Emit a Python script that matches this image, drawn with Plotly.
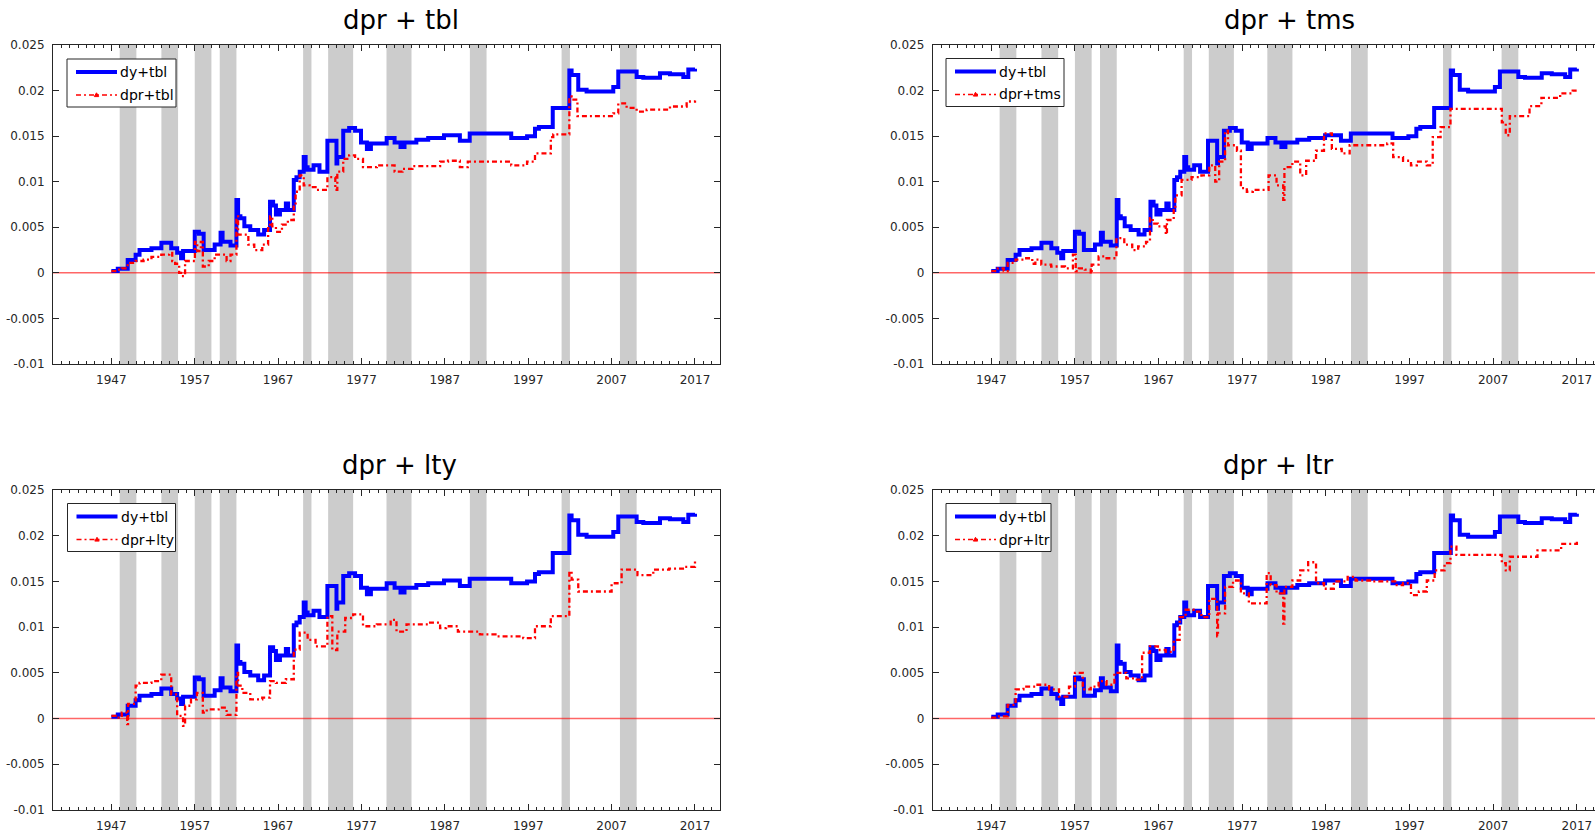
import plotly.graph_objects as go

# ---- recession bands (start, end year) ----
band_start = [1948, 1953, 1957, 1960, 1970, 1973, 1980, 1990, 2001, 2008]
band_end = [1950, 1955, 1959, 1962, 1971, 1976, 1983, 1992, 2002, 2010]

# ---- benchmark: dy+tbl (same in every panel) ----
dy_tbl_years = [1947.0, 1947.77, 1948.96, 1949.91, 1950.38, 1951.81, 1953.0, 1954.18, 1954.89,
                1955.36, 1955.6, 1957.0, 1957.5, 1958.07, 1959.39, 1960.1, 1960.34, 1961.29,
                1962.0, 1962.2, 1962.48, 1962.95, 1963.66, 1964.61, 1965.32, 1966.03, 1966.4,
                1966.74, 1967.22, 1967.93, 1968.2, 1968.88, 1969.2, 1969.59, 1970.07, 1970.3,
                1970.54, 1971.25, 1971.96, 1972.91, 1974.0, 1974.1, 1974.81, 1975.52, 1976.23,
                1976.94, 1977.65, 1978.13, 1980.02, 1980.97, 1981.68, 1982.16, 1983.58, 1985.0,
                1986.9, 1988.8, 1989.98, 1994.96, 1996.86, 1997.81, 1998.28, 1999.94, 2001.93,
                2002.2, 2003.0, 2004.0, 2007.2, 2007.8, 2010.0, 2010.8, 2012.8, 2014.0, 2015.6,
                2016.2, 2017.0]
dy_tbl = [0.0002, 0.00045, 0.0014, 0.0020, 0.0025, 0.0027, 0.0033, 0.0027, 0.0022,
          0.0016, 0.0024, 0.0045, 0.0043, 0.0025, 0.0031, 0.0044, 0.0034, 0.0030,
          0.0080, 0.0062, 0.0060, 0.0051, 0.0047, 0.0042, 0.0047, 0.0078, 0.0074,
          0.0064, 0.0069, 0.0076, 0.0069, 0.0102, 0.0105, 0.0111, 0.0127, 0.0116,
          0.0113, 0.0118, 0.0111, 0.0145, 0.0120, 0.0127, 0.0156, 0.0159, 0.0156,
          0.0143, 0.0136, 0.0142, 0.0148, 0.0143, 0.0138, 0.0143, 0.0146, 0.0148,
          0.0151, 0.0145, 0.0153, 0.0148, 0.0150, 0.0158, 0.0160, 0.0181, 0.0222,
          0.0217, 0.0201, 0.0199, 0.0204, 0.0221, 0.0215, 0.0214, 0.0219, 0.0218, 0.0215,
          0.0223, 0.0224]

# ---- dpr+tbl ----
dpr_tbl_years = [1947.0, 1947.77, 1948.25, 1948.96, 1949.91, 1950.86, 1951.81, 1952.99, 1953.94,
                 1954.3, 1954.65, 1955.13, 1955.36, 1955.84, 1957.02, 1957.3, 1957.73, 1957.97,
                 1958.68, 1959.39, 1960.82, 1961.29, 1962.0, 1962.2, 1963.43, 1964.14, 1965.1,
                 1965.8, 1966.03, 1966.3, 1966.74, 1967.46, 1968.17, 1968.88, 1969.1, 1969.59,
                 1970.07, 1970.78, 1971.49, 1972.91, 1973.86, 1974.1, 1974.81, 1975.52, 1976.23,
                 1977.18, 1978.84, 1980.97, 1981.92, 1983.11, 1986.43, 1987.38, 1988.8, 1989.75,
                 1994.96, 1996.86, 1997.81, 1999.71, 2000.0, 2001.93, 2002.2, 2002.9, 2007.2,
                 2007.8, 2008.8, 2010.0, 2011.2, 2014.0, 2016.0, 2017.0]
dpr_tbl = [0.0002, 0.00035, 0.0005, 0.0011, 0.0013, 0.00145, 0.00175, 0.0020, 0.0022,
           0.0013, 0.0010, 0.0000, -0.00035, 0.0013, 0.0034, 0.0024, 0.0034, 0.0007,
           0.0013, 0.0020, 0.0013, 0.0020, 0.0062, 0.0042, 0.0031, 0.0025, 0.0031,
           0.0049, 0.0062, 0.0051, 0.0045, 0.0053, 0.0058, 0.0074, 0.0089, 0.0107,
           0.0096, 0.0094, 0.0091, 0.0105, 0.0091, 0.0111, 0.0125, 0.0129, 0.0125,
           0.0116, 0.0118, 0.0111, 0.0114, 0.0117, 0.0122, 0.0123, 0.0116, 0.0122,
           0.0118, 0.0122, 0.0131, 0.0149, 0.0152, 0.01935, 0.0190, 0.0172, 0.0175,
           0.0186, 0.0181, 0.0177, 0.0179, 0.01825, 0.0188, 0.0189]

# ---- dpr+tms ----
dpr_tms_years = [1947.0, 1947.78, 1948.49, 1948.96, 1949.91, 1950.85, 1951.9, 1952.27, 1952.98,
                 1954.16, 1955.81, 1956.76, 1957.1, 1957.47, 1958.18, 1958.89, 1959.0, 1959.83,
                 1960.78, 1961.96, 1962.9, 1963.85, 1964.56, 1965.5, 1965.97, 1966.3, 1966.92,
                 1967.86, 1968.0, 1968.81, 1969.0, 1969.75, 1970.94, 1972.12, 1973.06, 1973.77,
                 1974.24, 1974.95, 1975.3, 1976.37, 1976.84, 1977.55, 1978.26, 1980.15, 1981.1,
                 1981.9, 1982.04, 1982.99, 1983.93, 1984.64, 1985.82, 1986.77, 1987.71, 1988.89,
                 1989.84, 1994.33, 1995.04, 1996.22, 1997.17, 1997.87, 1999.06, 1999.77, 2000.71,
                 2001.89, 2008.03, 2008.5, 2008.98, 2011.34, 2012.76, 2015.0, 2016.5, 2017.0]
dpr_tms = [0.0002, 0.0005, 0.0002, 0.0011, 0.00145, 0.0016, 0.0010, 0.00145, 0.0009,
           0.0007, 0.0005, 0.0020, 0.0002, 0.0005, 0.00035, -0.0001, 0.0009, 0.0018,
           0.0016, 0.0038, 0.0031, 0.0025, 0.0029, 0.0034, 0.0060, 0.0054, 0.0051,
           0.0042, 0.0058, 0.0071, 0.0085, 0.0102, 0.0105, 0.0107, 0.0118, 0.0100,
           0.0122, 0.0156, 0.0140, 0.0134, 0.0093, 0.0089, 0.0091, 0.0107, 0.0096,
           0.0080, 0.0116, 0.0122, 0.0107, 0.0123, 0.0134, 0.0153, 0.0136, 0.0131,
           0.0140, 0.0142, 0.0127, 0.0123, 0.0118, 0.0122, 0.0118, 0.0149, 0.0160,
           0.0180, 0.0165, 0.0151, 0.0172, 0.0183, 0.0192, 0.0197, 0.0200, 0.0201]

# ---- dpr+lty ----
dpr_lty_years = [1947.0, 1947.5, 1948.25, 1948.9, 1949.0, 1949.91, 1950.38, 1951.81, 1952.99,
                 1954.18, 1954.89, 1955.6, 1955.84, 1956.55, 1957.26, 1957.97, 1958.44, 1959.87,
                 1960.82, 1962.0, 1962.2, 1962.71, 1963.66, 1965.1, 1966.03, 1966.74, 1967.93,
                 1968.88, 1969.59, 1970.54, 1971.49, 1972.91, 1973.5, 1974.1, 1975.05, 1976.0,
                 1977.18, 1978.84, 1980.5, 1981.2, 1982.4, 1985.0, 1986.43, 1987.14, 1988.56,
                 1991.2, 1993.07, 1996.4, 1997.81, 1999.71, 2001.93, 2002.2, 2003.0, 2007.0,
                 2008.2, 2010.1, 2012.0, 2013.9, 2015.8, 2017.0]
dpr_lty = [0.0003, 0.0001, 0.00065, -0.0006, 0.0016, 0.0036, 0.0039, 0.0041, 0.0048,
           0.00265, 0.0003, -0.0008, 0.0014, 0.0021, 0.0028, 0.00065, 0.0010, 0.0012,
           0.0004, 0.0050, 0.0036, 0.0028, 0.0021, 0.0023, 0.0041, 0.0039, 0.0043,
           0.00755, 0.0094, 0.0086, 0.0079, 0.0112, 0.0075, 0.0095, 0.0110, 0.0114,
           0.0101, 0.0103, 0.0108, 0.0095, 0.0103, 0.0105, 0.0099, 0.0101, 0.0095,
           0.0092, 0.0090, 0.0088, 0.0101, 0.0112, 0.0161, 0.0152, 0.0139, 0.0148,
           0.0163, 0.0157, 0.0163, 0.0164, 0.0166, 0.0172]

# ---- dpr+ltr ----
dpr_ltr_years = [1947.0, 1947.78, 1948.96, 1949.91, 1950.85, 1952.27, 1953.92, 1955.1, 1956.29,
                 1957.0, 1957.94, 1958.89, 1959.83, 1960.78, 1961.72, 1963.14, 1964.08, 1965.03,
                 1965.97, 1966.92, 1967.86, 1968.81, 1969.52, 1970.23, 1971.17, 1972.12, 1973.06,
                 1974.0, 1974.1, 1974.95, 1975.9, 1976.84, 1977.79, 1979.92, 1980.4, 1981.1,
                 1981.9, 1982.04, 1982.99, 1983.93, 1984.88, 1985.82, 1986.77, 1987.95, 1989.6,
                 1990.55, 1992.44, 1995.28, 1996.22, 1997.17, 1998.11, 1999.06, 2000.0, 2001.18,
                 2001.89, 2002.6, 2008.03, 2008.5, 2008.98, 2012.29, 2015.12, 2017.0]
dpr_ltr = [0.0001, 0.00025, 0.0015, 0.0032, 0.0035, 0.0037, 0.0032, 0.0024, 0.0035,
           0.0050, 0.0032, 0.0035, 0.0041, 0.0037, 0.0050, 0.0044, 0.00425, 0.0072,
           0.0079, 0.0075, 0.0073, 0.0086, 0.0111, 0.0119, 0.0117, 0.0111, 0.0131,
           0.0090, 0.0115, 0.0144, 0.0151, 0.0137, 0.0126, 0.0159, 0.0146, 0.0137,
           0.0104, 0.0144, 0.0151, 0.0162, 0.0171, 0.0148, 0.0142, 0.0150, 0.0155,
           0.0151, 0.0150, 0.0146, 0.0148, 0.0135, 0.0139, 0.0151, 0.0162, 0.0170,
           0.0188, 0.0179, 0.0170, 0.0162, 0.0177, 0.0184, 0.0191, 0.0195]

# ---- axis ticks ----
x_tickvals = [1947, 1957, 1967, 1977, 1987, 1997, 2007, 2017]
y_tickvals = [-0.01, -0.005, 0, 0.005, 0.01, 0.015, 0.02, 0.025]
y_ticktext = ["-0.01", "-0.005", "0", "0.005", "0.01", "0.015", "0.02", "0.025"]

W, H = 1595, 832
FONT = "DejaVu Sans"
AX_COLOR = "#262626"
BLUE = "#0000ff"
RED = "#ff0000"
RED_DASH = "5px,3px,2px,3px"


def px(x):
    return x / W


def py(y):
    return 1 - y / H


# panel geometry in pixels: box = (left, right, top, bottom); legend = (left, top, width)
panels = [
    dict(title="dpr + tbl", name="dpr+tbl", years=dpr_tbl_years, vals=dpr_tbl,
         box=(53, 720, 45, 364), xmax=2020.0, title_xy=(340.7, 20),
         legend=(67, 59, 109), right=True),
    dict(title="dpr + tms", name="dpr+tms", years=dpr_tms_years, vals=dpr_tms,
         box=(932.7, W, 45, 364), xmax=1940 + (W - 932.7) / 8.366, title_xy=(1222, 20),
         legend=(946, 58.5, 118), right=False),
    dict(title="dpr + lty", name="dpr+lty", years=dpr_lty_years, vals=dpr_lty,
         box=(53, 720, 490, 810), xmax=2020.0, title_xy=(340, 464.5),
         legend=(67.5, 503.5, 108), right=True),
    dict(title="dpr + ltr", name="dpr+ltr", years=dpr_ltr_years, vals=dpr_ltr,
         box=(932.7, W, 490, 810), xmax=1940 + (W - 932.7) / 8.366, title_xy=(1221, 464.5),
         legend=(946, 503.5, 105), right=False),
]

fig = go.Figure()
layout = dict(width=W, height=H, margin=dict(l=0, r=0, t=0, b=0, autoexpand=False),
              paper_bgcolor="white", plot_bgcolor="white", showlegend=False,
              font=dict(family=FONT, color=AX_COLOR))
shapes = []
annotations = []

for i, p in enumerate(panels, start=1):
    sfx = "" if i == 1 else str(i)
    xa, ya = "x" + sfx, "y" + sfx
    l, r, t, b = p["box"]

    layout["xaxis" + sfx] = dict(
        domain=[px(l), px(r)], range=[1940, p["xmax"]], anchor=ya, automargin=False,
        tickvals=x_tickvals, ticks="inside", ticklen=6, tickwidth=1, tickcolor=AX_COLOR,
        showline=True, linecolor=AX_COLOR, linewidth=1, mirror="allticks",
        showgrid=False, zeroline=False, ticklabelstandoff=5,
        tickfont=dict(family=FONT, size=12, color=AX_COLOR),
        minor=dict(dtick=1, tick0=1940, ticks="inside", ticklen=3, tickcolor=AX_COLOR, showgrid=False),
    )
    layout["yaxis" + sfx] = dict(
        domain=[py(b), py(t)], range=[-0.01, 0.025], anchor=xa, automargin=False,
        tickvals=y_tickvals, ticktext=y_ticktext, ticks="inside", ticklen=6, tickwidth=1,
        tickcolor=AX_COLOR, showline=True, linecolor=AX_COLOR, linewidth=1,
        mirror="allticks" if p["right"] else False,
        showgrid=False, zeroline=False, ticklabelstandoff=5,
        tickfont=dict(family=FONT, size=12, color=AX_COLOR),
    )

    # shaded recession periods
    for s, e in zip(band_start, band_end):
        shapes.append(dict(type="rect", xref=xa, yref=ya + " domain", x0=s, x1=e, y0=0, y1=1,
                           fillcolor="#cccccc", line=dict(width=0), layer="below"))
    # zero reference line
    shapes.append(dict(type="line", xref=xa + " domain", yref=ya, x0=0, x1=1, y0=0, y1=0,
                       line=dict(color="rgba(255,0,0,0.6)", width=1.5), layer="below"))

    # series
    fig.add_trace(go.Scatter(x=dy_tbl_years, y=dy_tbl, mode="lines", line_shape="hv",
                             line=dict(color=BLUE, width=4), xaxis=xa, yaxis=ya, name="dy+tbl"))
    fig.add_trace(go.Scatter(x=p["years"], y=p["vals"], mode="lines", line_shape="hv",
                             line=dict(color=RED, width=2.3, dash=RED_DASH),
                             xaxis=xa, yaxis=ya, name=p["name"]))

    # legend box: frame, line samples and labels
    lx, ly, lw = p["legend"]
    row1, row2 = ly + 13, ly + 36
    s0, s1 = lx + 9, lx + 50
    shapes.append(dict(type="rect", xref="paper", yref="paper", x0=px(lx), x1=px(lx + lw),
                       y0=py(ly + 48), y1=py(ly), fillcolor="white",
                       line=dict(color=AX_COLOR, width=1), layer="above"))
    shapes.append(dict(type="line", xref="paper", yref="paper", x0=px(s0), x1=px(s1),
                       y0=py(row1), y1=py(row1), line=dict(color=BLUE, width=4), layer="above"))
    shapes.append(dict(type="line", xref="paper", yref="paper", x0=px(s0), x1=px(s1),
                       y0=py(row2), y1=py(row2), line=dict(color=RED, width=1.5, dash=RED_DASH),
                       layer="above"))
    mx = (s0 + s1) / 2
    shapes.append(dict(type="path", xref="paper", yref="paper",
                       path=f"M {px(mx - 2.2)},{py(row2 + 1.6)} L {px(mx)},{py(row2 - 2.2)} "
                            f"L {px(mx + 2.2)},{py(row2 + 1.6)} Z",
                       fillcolor=RED, line=dict(color=RED, width=1), layer="above"))
    for txt, yy in (("dy+tbl", row1), (p["name"], row2)):
        annotations.append(dict(text=txt, x=px(lx + 51), y=py(yy), xref="paper", yref="paper",
                                xanchor="left", yanchor="middle", showarrow=False,
                                font=dict(family=FONT, size=14, color="black")))

    tx, ty = p["title_xy"]
    annotations.append(dict(text=p["title"], x=px(tx), y=py(ty), xref="paper", yref="paper",
                            xanchor="left", yanchor="middle", showarrow=False,
                            font=dict(family=FONT, size=26, color="black")))

layout["shapes"] = shapes
layout["annotations"] = annotations
fig.update_layout(**layout)

fig.write_html("out.html")
